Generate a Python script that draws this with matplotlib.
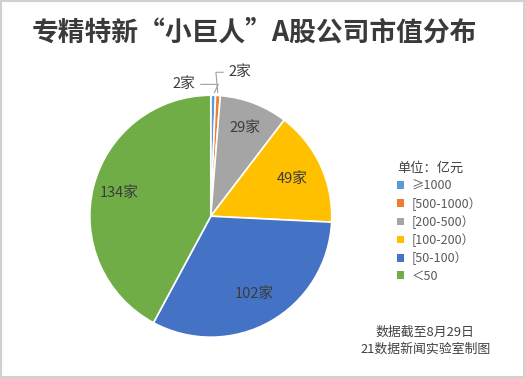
import matplotlib
matplotlib.use("Agg")
import matplotlib.pyplot as plt
import numpy as np
from matplotlib.patches import Rectangle

plt.rcParams['font.family'] = ['Noto Sans CJK SC', 'DejaVu Sans']

title = "专精特新“小巨人”A股公司市值分布"
categories = ["≥1000", "[500-1000）", "[200-500）", "[100-200）", "[50-100）", "＜50"]
counts = [2, 2, 29, 49, 102, 134]
colors = ["#5B9BD5", "#ED7D31", "#A5A5A5", "#FFC000", "#4472C4", "#70AD47"]
notes = ["数据截至8月29日", "21数据新闻实验室制图"]

fig = plt.figure(figsize=(5.25, 3.78), dpi=100)
fig.patches.append(Rectangle((0.002, 0.003), 0.996, 0.994, transform=fig.transFigure,
                             fill=False, edgecolor="#d0d0d0", linewidth=1.5))

ax = fig.add_axes([0.171, 0.108, 0.461, 0.640])
wedges, _ = ax.pie(counts, colors=colors, startangle=90, counterclock=False,
                   wedgeprops=dict(edgecolor="white", linewidth=1.2))
ax.set_aspect("equal")
ax.set_xlim(-1, 1)
ax.set_ylim(-1, 1)

label_color = "#3c3c3c"
for i, (w, n) in enumerate(zip(wedges, counts)):
    ang = np.deg2rad((w.theta1 + w.theta2) / 2)
    x, y = np.cos(ang), np.sin(ang)
    if n > 10:
        r = 0.74 if n in (49, 102) else 0.78
        ax.text(r * x, r * y, f"{n}家", ha="center", va="center",
                fontsize=10.5, color=label_color)
    else:
        if i == 0:
            ax.annotate(f"{n}家", xy=(x, y), xytext=(-0.13, 1.09),
                        ha="right", va="center", fontsize=10.5, color=label_color,
                        arrowprops=dict(arrowstyle="-", color="#a0a0a0", lw=0.8,
                                        connectionstyle="angle,angleA=0,angleB=65,rad=0"))
        else:
            ax.annotate(f"{n}家", xy=(x, y), xytext=(0.15, 1.19),
                        ha="left", va="center", fontsize=10.5, color=label_color,
                        arrowprops=dict(arrowstyle="-", color="#a0a0a0", lw=0.8,
                                        connectionstyle="angle,angleA=0,angleB=95,rad=0"))

fig.text(0.484, 0.915, title, ha="center", va="center", fontsize=19.3,
         fontweight="bold", color="#3a3a3a")

leg = fig.legend(wedges, categories, title="单位：亿元", loc="upper left",
                 bbox_to_anchor=(0.745, 0.588), frameon=False, fontsize=9,
                 title_fontsize=9.5, handlelength=0.55, handleheight=0.55,
                 handletextpad=0.6, labelspacing=0.36, alignment="left",
                 borderpad=0, labelcolor="#595959")
leg.get_title().set_color("#404040")
for h in leg.legend_handles:
    h.set_edgecolor("none")

fig.text(0.81, 0.122, notes[0], ha="center", va="center", fontsize=9.3, color="#404040")
fig.text(0.81, 0.075, notes[1], ha="center", va="center", fontsize=9.3, color="#404040")

fig.savefig("out.png", dpi=100, facecolor="white")
